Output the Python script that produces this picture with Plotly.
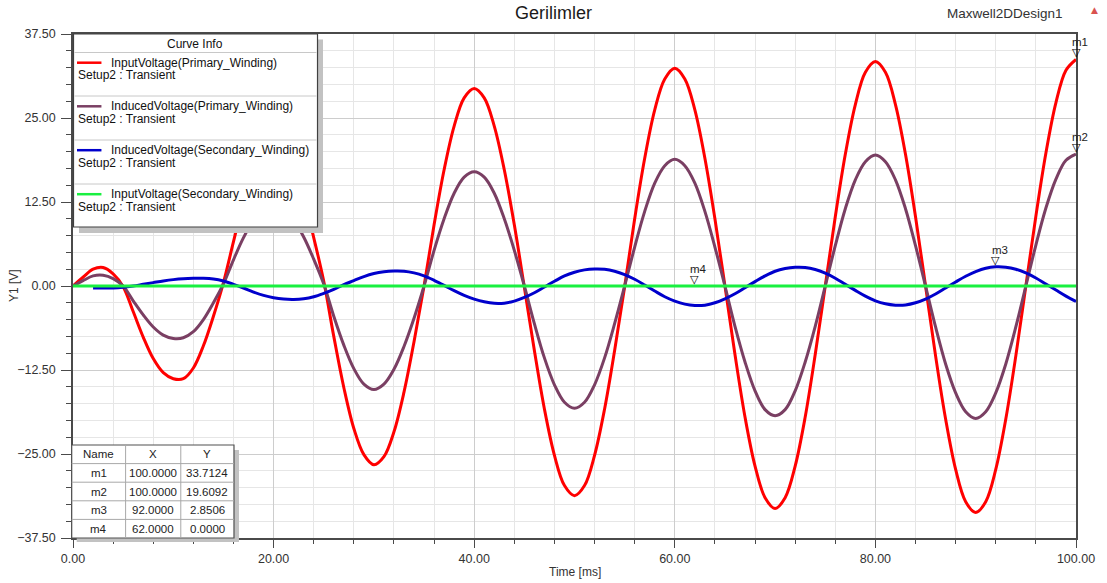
import plotly.graph_objects as go

# ---------------------------------------------------------------- data
time_ms = list(range(0, 101))

input_primary = [
    0.0, 1.3, 2.5, 2.75, 1.8, -0.1, -3.8, -7.6, -10.8, -12.9,
    -13.8, -13.8, -12.2, -8.9, -4.5, 0.5, 6.6, 12.6, 17.4, 20.4,
    21.5, 20.5, 17.6, 13.1, 7.2, 0.7, -7.5, -15.1, -21.2, -25.1,
    -26.6, -25.4, -21.7, -15.8, -8.3, 0.0, 9.1, 17.3, 23.8, 28.0,
    29.4, 28.0, 23.8, 17.3, 9.1, -0.2, -9.6, -18.3, -25.2, -29.7,
    -31.2, -29.7, -25.2, -18.3, -9.6, -0.1, 10.0, 19.0, 26.2, 30.8,
    32.4, 30.8, 26.2, 19.0, 10.0, 0.0, -10.2, -19.5, -26.8, -31.5,
    -33.1, -31.5, -26.8, -19.5, -10.2, 0.0, 10.3, 19.6, 27.0, 31.8,
    33.4, 31.8, 27.0, 19.6, 10.3, 0.0, -10.4, -19.8, -27.3, -32.1,
    -33.7, -32.1, -27.3, -19.8, -10.4, 0.0, 10.4, 19.8, 27.3, 32.1,
    33.7124,
]

induced_primary = [
    0.0, 0.8, 1.5, 1.6, 1.1, 0.0, -2.2, -4.3, -6.1, -7.3,
    -7.8, -7.7, -6.8, -5.0, -2.5, 0.3, 3.9, 7.2, 9.8, 11.4,
    12.0, 11.4, 9.8, 7.3, 4.0, 0.3, -4.5, -8.8, -12.3, -14.6,
    -15.4, -14.6, -12.4, -9.0, -4.8, 0.0, 5.3, 10.0, 13.8, 16.2,
    17.0, 16.2, 13.8, 10.0, 5.3, 0.0, -5.6, -10.7, -14.7, -17.3,
    -18.2, -17.3, -14.7, -10.7, -5.6, 0.0, 5.8, 11.1, 15.3, 17.9,
    18.85, 17.9, 15.3, 11.1, 5.8, 0.0, -6.0, -11.3, -15.6, -18.4,
    -19.3, -18.4, -15.6, -11.3, -6.0, 0.0, 6.0, 11.5, 15.8, 18.5,
    19.5, 18.5, 15.8, 11.5, 6.0, 0.0, -6.1, -11.6, -15.9, -18.7,
    -19.7, -18.7, -15.9, -11.6, -6.1, 0.0, 6.1, 11.6, 15.9, 18.7,
    19.6092,
]

time_secondary_ms = list(range(2, 101))

induced_secondary = [
    -0.3, -0.3, -0.3, -0.2, 0.0, 0.25, 0.5, 0.75,
    0.95, 1.08, 1.14, 1.15, 1.05, 0.75, 0.25, -0.3, -0.9, -1.4,
    -1.75, -1.95, -2.0, -1.9, -1.6, -1.1, -0.5, 0.2, 0.8, 1.4,
    1.85, 2.12, 2.23, 2.2, 1.95, 1.5, 0.85, 0.1, -0.7, -1.4,
    -1.95, -2.35, -2.58, -2.55, -2.25, -1.7, -1.0, -0.15, 0.7, 1.5,
    2.05, 2.4, 2.53, 2.48, 2.2, 1.7, 1.0, 0.15, -0.75, -1.6,
    -2.25, -2.7, -2.9, -2.85, -2.5, -1.9, -1.15, -0.25, 0.65, 1.5,
    2.2, 2.6, 2.78, 2.75, 2.45, 1.9, 1.15, 0.25, -0.65, -1.5,
    -2.2, -2.65, -2.85, -2.82, -2.5, -1.95, -1.2, -0.3, 0.6, 1.45,
    2.15, 2.65, 2.8506, 2.8, 2.5, 1.95, 1.2, 0.3, -0.6, -1.5,
    -2.3,
]

input_secondary = [
    0.0, 0.0, 0.0, 0.0, 0.0, 0.0, 0.0, 0.0, 0.0, 0.0,
    0.0, 0.0, 0.0, 0.0, 0.0, 0.0, 0.0, 0.0, 0.0, 0.0,
    0.0, 0.0, 0.0, 0.0, 0.0, 0.0, 0.0, 0.0, 0.0, 0.0,
    0.0, 0.0, 0.0, 0.0, 0.0, 0.0, 0.0, 0.0, 0.0, 0.0,
    0.0, 0.0, 0.0, 0.0, 0.0, 0.0, 0.0, 0.0, 0.0, 0.0,
    0.0, 0.0, 0.0, 0.0, 0.0, 0.0, 0.0, 0.0, 0.0, 0.0,
    0.0, 0.0, 0.0, 0.0, 0.0, 0.0, 0.0, 0.0, 0.0, 0.0,
    0.0, 0.0, 0.0, 0.0, 0.0, 0.0, 0.0, 0.0, 0.0, 0.0,
    0.0, 0.0, 0.0, 0.0, 0.0, 0.0, 0.0, 0.0, 0.0, 0.0,
    0.0, 0.0, 0.0, 0.0, 0.0, 0.0, 0.0, 0.0, 0.0, 0.0,
    0.0,
]

series_names = [
    "InputVoltage(Primary_Winding)",
    "InducedVoltage(Primary_Winding)",
    "InducedVoltage(Secondary_Winding)",
    "InputVoltage(Secondary_Winding)",
]
series_setup = "Setup2 : Transient"
series_colors = ["#ff0000", "#7a3f63", "#0000cc", "#19f040"]

marker_names = ["m1", "m2", "m3", "m4"]
marker_x = [100.0, 100.0, 92.0, 62.0]
marker_y = [33.7124, 19.6092, 2.8506, 0.0]

x_ticks = [0, 20, 40, 60, 80, 100]
y_ticks = [-37.5, -25.0, -12.5, 0.0, 12.5, 25.0, 37.5]

# ---------------------------------------------------------------- layout geometry (pixels)
W, H = 1107, 583
PL, PR, PT, PB = 73, 1078, 34, 538
FONT = "Liberation Sans, Arial, sans-serif"


def px(x):
    return (x - PL) / (PR - PL)


def py(y):
    return (PB - y) / (PB - PT)


fig = go.Figure()

series_x = [time_ms, time_ms, time_secondary_ms, time_ms]
series_y = [input_primary, induced_primary, induced_secondary, input_secondary]
for name, xs, ys, col in zip(series_names, series_x, series_y, series_colors):
    fig.add_trace(go.Scatter(
        x=xs, y=ys, name=name, mode="lines",
        line=dict(color=col, width=3, shape="spline", smoothing=1.0),
        showlegend=False, hoverinfo="x+y+name",
    ))

shapes = []
annotations = []

# ---- "Curve Info" box
shapes.append(dict(type="rect", xref="paper", yref="paper",
                   x0=px(79), x1=px(323.5), y0=py(233), y1=py(39.5),
                   fillcolor="#c2c2c2", line=dict(width=0), layer="above"))
shapes.append(dict(type="rect", xref="paper", yref="paper",
                   x0=px(73.5), x1=px(318), y0=py(227), y1=py(34),
                   fillcolor="white", line=dict(color="#404040", width=1.2), layer="above"))
for sep in [52.5, 96, 140, 184]:
    shapes.append(dict(type="line", xref="paper", yref="paper",
                       x0=px(74.5), x1=px(317), y0=py(sep), y1=py(sep),
                       line=dict(color="#c8c8c8", width=1), layer="above"))
annotations.append(dict(xref="paper", yref="paper", x=px(195.5), y=py(44),
                        text="Curve Info", showarrow=False, xanchor="center", yanchor="middle",
                        font=dict(family=FONT, size=12, color="#111")))
row_top = [62.7, 106.3, 150.2, 194.2]
for name, col, ry in zip(series_names, series_colors, row_top):
    shapes.append(dict(type="line", xref="paper", yref="paper",
                       x0=px(77), x1=px(101.5), y0=py(ry), y1=py(ry),
                       line=dict(color=col, width=2.5), layer="above"))
    annotations.append(dict(xref="paper", yref="paper", x=px(109), y=py(ry),
                            text=name, showarrow=False, xanchor="left", yanchor="middle",
                            font=dict(family=FONT, size=12, color="#111")))
    annotations.append(dict(xref="paper", yref="paper", x=px(76), y=py(ry + 12.5),
                            text=series_setup, showarrow=False, xanchor="left", yanchor="middle",
                            font=dict(family=FONT, size=12, color="#111")))

# ---- marker table
tb_l, tb_r, tb_t, row_h = 71.7, 234.3, 445.0, 18.6
col_edges = [tb_l, 125.7, 181.0, tb_r]
tb_b = tb_t + row_h * (len(marker_names) + 1)
shapes.append(dict(type="rect", xref="paper", yref="paper",
                   x0=px(tb_l + 5), x1=px(tb_r + 5), y0=py(tb_b + 4), y1=py(tb_t + 5),
                   fillcolor="#c2c2c2", line=dict(width=0), layer="above"))
shapes.append(dict(type="rect", xref="paper", yref="paper",
                   x0=px(tb_l), x1=px(tb_r), y0=py(tb_b), y1=py(tb_t),
                   fillcolor="white", line=dict(color="#505050", width=1.2), layer="above"))
for k in range(1, len(marker_names) + 1):
    yy = tb_t + row_h * k
    shapes.append(dict(type="line", xref="paper", yref="paper",
                       x0=px(tb_l), x1=px(tb_r), y0=py(yy), y1=py(yy),
                       line=dict(color="#a8a8a8", width=1), layer="above"))
for ce in col_edges[1:-1]:
    shapes.append(dict(type="line", xref="paper", yref="paper",
                       x0=px(ce), x1=px(ce), y0=py(tb_b), y1=py(tb_t),
                       line=dict(color="#a8a8a8", width=1), layer="above"))
col_centers = [(col_edges[i] + col_edges[i + 1]) / 2 for i in range(3)]
table_rows = [["Name", "X", "Y"]] + [
    [n, f"{xv:.4f}", f"{yv:.4f}"] for n, xv, yv in zip(marker_names, marker_x, marker_y)
]
for r, row in enumerate(table_rows):
    cy = tb_t + row_h * (r + 0.5)
    for c, txt in enumerate(row):
        annotations.append(dict(xref="paper", yref="paper", x=px(col_centers[c]), y=py(cy),
                                text=txt, showarrow=False, xanchor="center", yanchor="middle",
                                font=dict(family=FONT, size=11.5, color="#222")))

# ---- data markers on the curves
for n, xv, yv in zip(marker_names, marker_x, marker_y):
    annotations.append(dict(x=xv, y=yv, xref="x", yref="y", text="▽", showarrow=False,
                            xanchor="center", yanchor="bottom", yshift=-2,
                            font=dict(family="DejaVu Sans", size=11, color="#000")))
    annotations.append(dict(x=xv, y=yv, xref="x", yref="y", text=n, showarrow=False,
                            xanchor="center", yanchor="bottom", yshift=9, xshift=4,
                            font=dict(family=FONT, size=11.5, color="#222")))

# ---- header texts and axis titles
annotations.append(dict(xref="paper", yref="paper", x=px(1007), y=py(13.5),
                        text="Maxwell2DDesign1", showarrow=False, xanchor="center", yanchor="middle",
                        font=dict(family=FONT, size=13.5, color="#333")))
annotations.append(dict(xref="paper", yref="paper", x=px(1097), y=py(10),
                        text="▲", showarrow=False, xanchor="center", yanchor="middle",
                        font=dict(family="DejaVu Sans", size=9, color="#d9534f")))
annotations.append(dict(xref="paper", yref="paper", x=px(575.5), y=py(572),
                        text="Time [ms]", showarrow=False, xanchor="center", yanchor="middle",
                        font=dict(family=FONT, size=12, color="#333")))
annotations.append(dict(xref="paper", yref="paper", x=px(14), y=py(286),
                        text="Y1 [V]", showarrow=False, xanchor="center", yanchor="middle",
                        textangle=-90, font=dict(family=FONT, size=12, color="#333")))

axis_common = dict(
    showline=True, linecolor="#4a4a4a", linewidth=1.5, mirror=True,
    ticks="outside", tickcolor="#4a4a4a", tickwidth=1,
    showgrid=True, gridcolor="#cdcdcd", gridwidth=1,
    zeroline=False, tickformat=".2f",
    tickfont=dict(family=FONT, size=12.5, color="#333"),
)

fig.update_layout(
    width=W, height=H,
    margin=dict(l=PL, r=W - PR, t=PT, b=H - PB, pad=0),
    paper_bgcolor="white", plot_bgcolor="white",
    title=dict(text="Gerilimler", x=0.5, xref="container", xanchor="center",
               y=1 - 13 / H, yref="container", yanchor="middle",
               font=dict(family=FONT, size=18, color="#1a1a1a")),
    xaxis=dict(range=[0, 100], tickvals=x_ticks, ticklen=8,
               minor=dict(dtick=4, ticks="outside", ticklen=4, tickcolor="#4a4a4a",
                          showgrid=True, gridcolor="#e6e6e6"),
               **axis_common),
    yaxis=dict(range=[-37.5, 37.5], tickvals=y_ticks, ticklen=10, ticklabelstandoff=3,
               minor=dict(dtick=2.5, ticks="outside", ticklen=5, tickcolor="#4a4a4a",
                          showgrid=True, gridcolor="#e6e6e6"),
               **axis_common),
    shapes=shapes,
    annotations=annotations,
    showlegend=False,
)

fig.write_html("out.html")
